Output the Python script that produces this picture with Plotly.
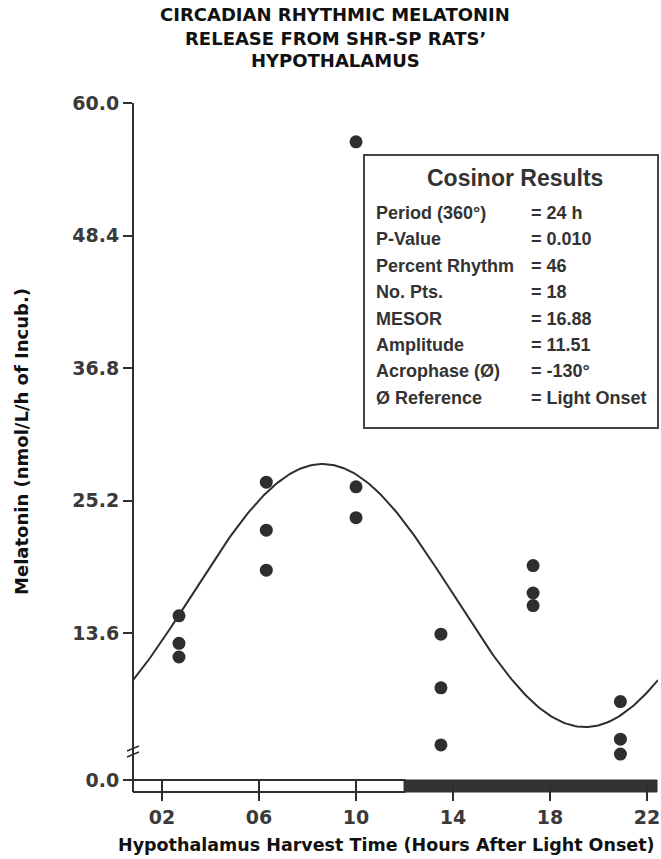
import numpy as np
import plotly.graph_objects as go

# Melatonin released per sample (nmol/L/h of incubation) by harvest time
harvest_h = [2.7, 2.7, 2.7, 6.3, 6.3, 6.3, 10.0, 10.0, 10.0,
             13.5, 13.5, 13.5, 17.3, 17.3, 17.3, 20.9, 20.9, 20.9]
melatonin = [15.1, 12.7, 11.5, 26.8, 22.6, 19.1, 56.6, 26.4, 23.7,
             13.5, 8.8, 3.8, 19.5, 17.1, 16.0, 7.6, 4.3, 3.0]

# Cosinor fit parameters
period_h = 24
mesor = 16.88
amplitude = 11.51
acrophase_deg = -130

y_tick_vals = [13.6, 25.2, 36.8, 48.4, 60.0]
x_tick_vals = [2, 6, 10, 14, 18, 22]
x_tick_text = ["02", "06", "10", "14", "18", "22"]
lights_off_h = 12

title_lines = ["CIRCADIAN RHYTHMIC MELATONIN", "RELEASE FROM SHR-SP RATS’", "HYPOTHALAMUS"]
x_title = "Hypothalamus Harvest Time (Hours After Light Onset)"
y_title = "Melatonin (nmol/L/h of Incub.)"
cosinor_labels = ["Period (360°)", "P-Value", "Percent Rhythm", "No. Pts.",
                  "MESOR", "Amplitude", "Acrophase (Ø)", "Ø Reference"]
cosinor_values = ["= 24 h", "= 0.010", "= 46", "= 18",
                  "= 16.88", "= 11.51", "= -130°", "= Light Onset"]

# ---- layout geometry (pixels) ----
W, H = 661, 859
ML, MR, MT, MB = 133, 3, 103, 67
PW, PH = W - ML - MR, H - MT - MB
BAR_PX = 12                       # height of the light/dark bar
split = BAR_PX / PH               # lower (broken) axis segment fraction
X_RANGE = [0.804, 22.45]
Y_RANGE = [0.73, 60.0]

INK = "#2e2e2e"
WIDE = "DejaVu Sans, Verdana, sans-serif"
FONT = "Liberation Sans, Arial, Helvetica, sans-serif"


def px_x(px):
    return (px - ML) / PW


def px_y(py):
    return (H - MB - py) / PH


t = np.linspace(0, period_h, 241)
fit = mesor + amplitude * np.cos(2 * np.pi * t / period_h + np.deg2rad(acrophase_deg))

fig = go.Figure()
fig.add_trace(go.Scatter(x=t, y=fit, mode="lines", xaxis="x2", yaxis="y",
                         line=dict(color=INK, width=2), hoverinfo="skip"))
fig.add_trace(go.Scatter(x=harvest_h, y=melatonin, mode="markers", xaxis="x", yaxis="y",
                         marker=dict(size=13, color=INK)))
# lower segment of the broken y axis (holds the 0.0 origin)
fig.add_trace(go.Scatter(x=[], y=[], mode="markers", xaxis="x", yaxis="y2", hoverinfo="skip"))

shapes = [
    # light phase (open) and dark phase (filled) bar
    dict(type="rect", xref="x", yref="paper", x0=X_RANGE[0], x1=lights_off_h,
         y0=0, y1=split, fillcolor="white", line=dict(color=INK, width=2), layer="below"),
    dict(type="rect", xref="x", yref="paper", x0=lights_off_h, x1=22.41,
         y0=0, y1=split, fillcolor="#333333", line=dict(color="#333333", width=1), layer="below"),
    # cosinor results box
    dict(type="rect", xref="paper", yref="paper", x0=px_x(364), x1=px_x(658),
         y0=px_y(428), y1=px_y(155), fillcolor="white", line=dict(color="#444444", width=2)),
]
# axis-break marks
for dy in (-3, 3):
    shapes.append(dict(type="line", xref="paper", yref="paper",
                       xsizemode="pixel", ysizemode="pixel",
                       xanchor=0, yanchor=px_y(751),
                       x0=-6, x1=6, y0=dy - 3, y1=dy + 2,
                       line=dict(color=INK, width=1.6)))

annotations = []
for i, line in enumerate(title_lines):
    annotations.append(dict(text=line, xref="paper", yref="paper", x=px_x(335),
                            y=px_y(15 + i * 23), xanchor="center", yanchor="middle",
                            showarrow=False,
                            font=dict(size=18, color="#111111", family=WIDE, weight="bold")))
annotations.append(dict(text=x_title, xref="paper", yref="paper", x=px_x(386), y=px_y(845),
                        xanchor="center", yanchor="middle", showarrow=False,
                        font=dict(size=17.5, color="#111111", family=WIDE, weight="bold")))
annotations.append(dict(text="Cosinor Results", xref="paper", yref="paper", x=px_x(515),
                        y=px_y(178), xanchor="center", yanchor="middle", showarrow=False,
                        font=dict(size=23, color="#333333", family=FONT, weight="bold")))
for i, (lab, val) in enumerate(zip(cosinor_labels, cosinor_values)):
    yy = px_y(213 + i * 26.4)
    annotations.append(dict(text=lab, xref="paper", yref="paper", x=px_x(374), y=yy,
                            xanchor="left", yanchor="middle", showarrow=False,
                            font=dict(size=18, color="#333333", family=FONT, weight="bold")))
    annotations.append(dict(text=val, xref="paper", yref="paper", x=px_x(529), y=yy,
                            xanchor="left", yanchor="middle", showarrow=False,
                            font=dict(size=18, color="#333333", family=FONT, weight="bold")))

tick_font = dict(size=19, color="#3a3a3a", family=WIDE, weight="bold")
title_font = dict(size=18, color="#111111", family=WIDE, weight="bold")

fig.update_layout(
    width=W, height=H, margin=dict(l=ML, r=MR, t=MT, b=MB, autoexpand=False),
    paper_bgcolor="white", plot_bgcolor="white", showlegend=False,
    shapes=shapes, annotations=annotations,
    xaxis=dict(range=X_RANGE, domain=[0, 1], anchor="free", position=split,
               tickvals=x_tick_vals, ticktext=x_tick_text, ticks="outside", ticklen=20,
               tickwidth=2, tickcolor=INK, showline=False, showgrid=False, zeroline=False,
               tickfont=tick_font),
    xaxis2=dict(range=[0, period_h], overlaying="x", anchor="y", visible=False),
    yaxis=dict(range=Y_RANGE, domain=[split, 1], anchor="free", position=0,
               tickvals=y_tick_vals, tickformat=".1f", ticks="outside", ticklen=9,
               tickwidth=2, tickcolor=INK, showline=True, linecolor=INK, linewidth=2,
               showgrid=False, zeroline=False, tickfont=tick_font,
               title=dict(text=y_title, font=title_font, standoff=38)),
    yaxis2=dict(range=[-1, 0], domain=[0, split], anchor="free", position=0,
                tickvals=[0], ticktext=["0.0"], ticks="outside", ticklen=9, tickwidth=2,
                tickcolor=INK, showline=True, linecolor=INK, linewidth=2,
                showgrid=False, zeroline=False, tickfont=tick_font),
)

fig.write_html("out.html")
